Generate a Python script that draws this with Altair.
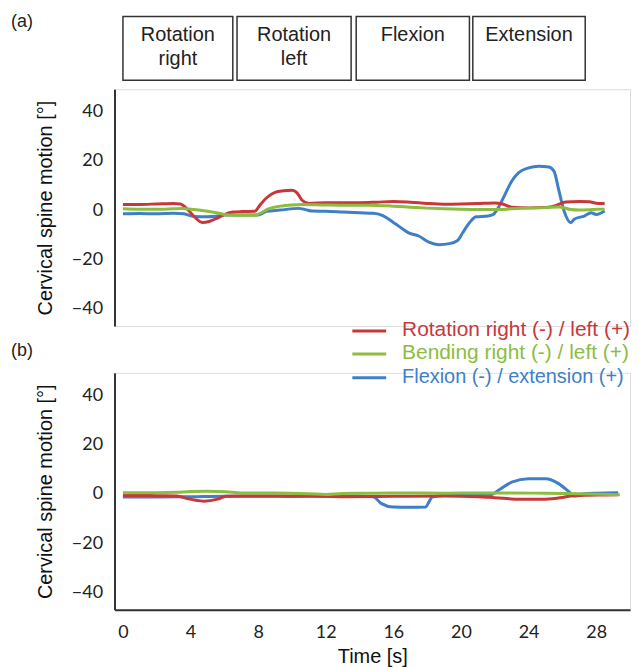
import altair as alt
import pandas as pd

# ---------------- data ----------------
series_names = ["Rotation right (-) / left (+)",
                "Bending right (-) / left (+)",
                "Flexion (-) / extension (+)"]
series_colors = ["#c8383a", "#8cbd3f", "#3f7fc8"]

# panel (a)
a_rot_t = [0.0, 1.0, 2.0, 3.0, 3.4, 3.8, 4.2, 4.7, 5.1, 5.5, 6.0, 6.5, 7.0, 7.8, 8.1, 8.5,
           9.0, 9.5, 10.0, 10.3, 10.6, 11.0, 12.0, 13.0, 14.0, 15.0, 16.0, 17.0, 18.0,
           19.0, 20.0, 21.0, 22.0, 22.4, 23.0, 24.0, 25.0, 25.6, 26.2, 27.0, 27.6, 28.0, 28.5]
a_rot_v = [2.3, 2.3, 2.5, 2.7, 2.5, 0.5, -2.5, -5.0, -4.6, -3.5, -1.8, -0.8, -0.6, -0.5, 2.0, 5.0,
           7.2, 7.8, 8.0, 7.0, 4.0, 2.7, 3.0, 3.0, 3.0, 3.2, 3.5, 3.2, 2.7,
           2.4, 2.5, 2.7, 2.9, 2.6, 1.2, 0.9, 1.1, 1.8, 3.3, 3.5, 3.4, 2.8, 2.7]

a_bend_t = [0.0, 1.0, 2.0, 3.0, 3.5, 4.2, 5.0, 5.7, 6.2, 7.0, 7.8, 8.2, 8.6, 9.3, 10.0, 10.6,
            12.0, 13.0, 14.6, 16.0, 17.0, 18.0, 19.0, 20.0, 21.0, 22.0, 23.0, 24.0, 25.0,
            25.8, 26.5, 27.0, 28.0, 28.5]
a_bend_v = [0.5, 0.3, 0.3, 0.5, 0.6, 0.2, -0.5, -1.3, -2.0, -2.1, -2.1, -1.0, 0.5, 1.6, 2.1, 2.3,
            2.1, 2.0, 2.0, 1.6, 1.2, 0.8, 0.5, 0.3, 0.2, 0.2, 0.5, 0.8, 1.0,
            1.3, 0.2, 0.0, 0.3, 0.4]

a_flex_t = [0.0, 1.0, 2.0, 3.0, 3.6, 4.2, 5.0, 5.5, 6.0, 7.0, 8.0, 8.5, 9.3, 10.4, 10.8, 11.2,
            12.0, 13.0, 14.0, 14.8, 15.3, 15.6, 16.0, 16.4, 16.9, 17.5, 18.1, 18.7, 19.3,
            19.8, 20.1, 20.5, 20.9, 21.6, 21.9, 22.2, 22.6, 23.0, 23.4, 24.0, 24.6, 25.2,
            25.5, 25.8, 26.1, 26.5, 26.7, 27.3, 27.7, 28.0, 28.5]
a_flex_v = [-1.5, -1.4, -1.5, -1.3, -1.5, -2.6, -2.7, -2.5, -2.0, -2.0, -2.0, -0.5, 0.0, 0.7, 0.2, -0.4,
            -0.5, -0.8, -1.1, -1.3, -2.0, -3.1, -5.0, -6.9, -9.2, -10.5, -13.0, -14.0, -13.6,
            -12.3, -9.2, -5.1, -2.7, -2.4, -1.8, 0.9, 6.3, 11.7, 15.1, 17.1, 17.8, 17.5,
            15.8, 7.7, -0.4, -5.1, -3.7, -2.4, -1.1, -1.8, -0.4]

# panel (b)
b_rot_t = [0.0, 1.0, 2.0, 3.2, 3.8, 4.8, 5.6, 6.1, 7.0, 9.0, 11.0, 13.0, 15.0, 17.0, 19.0,
           21.0, 22.0, 23.5, 25.0, 26.0, 26.5, 27.5, 28.5, 29.3]
b_rot_v = [-0.7, -0.7, -0.8, -0.9, -2.0, -3.0, -2.2, -1.0, -0.9, -0.9, -0.9, -1.2, -1.1, -1.0, -0.9,
           -1.2, -1.6, -2.2, -2.2, -1.5, -0.9, -0.6, -0.5, -0.4]

b_bend_t = [0.0, 2.0, 3.2, 4.0, 5.0, 6.1, 7.0, 9.0, 11.0, 12.0, 13.0, 15.0, 17.0, 19.0, 21.0,
            23.0, 25.0, 27.0, 29.4]
b_bend_v = [0.4, 0.4, 0.6, 0.9, 1.0, 0.8, 0.3, 0.3, 0.0, -0.3, 0.1, 0.2, 0.3, 0.2, 0.3,
            0.3, 0.2, 0.0, -0.4]

b_flex_t = [0.0, 2.0, 4.0, 6.0, 8.0, 10.0, 12.0, 14.0, 14.8, 15.3, 16.0, 17.0, 17.9, 18.1, 18.3,
            19.0, 20.0, 21.0, 21.8, 22.2, 23.0, 24.0, 25.0, 25.8, 26.4, 26.7, 27.3, 28.0, 29.3]
b_flex_v = [-1.3, -1.3, -1.2, -1.0, -1.0, -1.1, -1.0, -0.9, -1.2, -4.0, -5.4, -5.5, -5.4, -3.4, -1.3,
            -0.7, -0.6, -0.5, -0.4, 1.3, 4.7, 6.1, 6.1, 4.0, 0.7, -0.9, 0.0, 0.2, 0.4]

# task boxes above panel (a)
box_line1 = ["Rotation", "Rotation", "Flexion", "Extension"]
box_line2 = ["right", "left", "", ""]
box_start = [0.0, 6.75, 13.8, 20.7]
box_end = [6.5, 13.5, 20.5, 27.35]

panel_labels = ["(a)", "(b)"]
y_ticks = [-40, -20, 0, 20, 40]
x_ticks = [0, 4, 8, 12, 16, 20, 24, 28]

# ---------------- chart ----------------
W, H = 518, 238
XD = [-0.5, 30]
YD = [-47, 49]
TXT = "#222222"
SANS = "Liberation Sans"

y_axis = alt.Axis(values=y_ticks, title="Cervical spine motion [°]", ticks=False, grid=False,
                  labelPadding=12, labelFont="Lato", labelFontSize=18, labelColor=TXT,
                  titleFont=SANS, titleFontSize=20, titleFontWeight="normal", titleColor="#111111",
                  titlePadding=16, domainColor="#333333", domainWidth=2)
x_axis_b = alt.Axis(values=x_ticks, title="Time [s]", ticks=False, grid=False,
                    labelPadding=14, labelFont="Lato", labelFontSize=18, labelColor=TXT,
                    titleFont=SANS, titleFontSize=20, titleFontWeight="normal", titleColor="#111111",
                    titlePadding=5, domainColor="#333333", domainWidth=2)
xs = alt.Scale(domain=XD, nice=False, zero=False)
ys = alt.Scale(domain=YD, nice=False, zero=False)


def line_layers(data, x_axis):
    layers = []
    for t, v, c in data:
        df = pd.DataFrame({"t": t, "v": v})
        layers.append(
            alt.Chart(df).mark_line(color=c, strokeWidth=3, interpolate="monotone").encode(
                x=alt.X("t:Q", scale=xs, axis=x_axis),
                y=alt.Y("v:Q", scale=ys, axis=y_axis),
            )
        )
    return layers


def panel_label(text, yv):
    return alt.Chart(pd.DataFrame({"lab": [text]})).mark_text(
        align="left", baseline="middle", font=SANS, fontSize=18, color=TXT
    ).encode(x=alt.value(-104), y=alt.value(yv), text="lab:N")


# panel (a)
boxes_df = pd.DataFrame({"start": box_start, "end": box_end, "l1": box_line1, "l2": box_line2})
boxes = alt.Chart(boxes_df).mark_rect(fill="white", stroke="#333333", strokeWidth=1.5).encode(
    x=alt.X("start:Q", scale=xs, axis=None), x2="end:Q",
    y=alt.value(-73), y2=alt.value(-9))
box_t1 = alt.Chart(boxes_df).transform_calculate(mid="(datum.start + datum.end) / 2").mark_text(
    font=SANS, fontSize=20, color=TXT, baseline="middle").encode(
    x=alt.X("mid:Q", scale=xs, axis=None), y=alt.value(-54), text="l1:N")
box_t2 = alt.Chart(boxes_df).transform_calculate(mid="(datum.start + datum.end) / 2").mark_text(
    font=SANS, fontSize=20, color=TXT, baseline="middle").encode(
    x=alt.X("mid:Q", scale=xs, axis=None), y=alt.value(-30), text="l2:N")

a_lines = line_layers([(a_flex_t, a_flex_v, series_colors[2]),
                       (a_rot_t, a_rot_v, series_colors[0]),
                       (a_bend_t, a_bend_v, series_colors[1])], None)
panel_a = alt.layer(*a_lines, boxes, box_t1, box_t2, panel_label(panel_labels[0], -68)).properties(
    width=W, height=H)

# panel (b)
b_lines = line_layers([(b_flex_t, b_flex_v, series_colors[2]),
                       (b_rot_t, b_rot_v, series_colors[0]),
                       (b_bend_t, b_bend_v, series_colors[1])], x_axis_b)

legend_y = [-42, -19, 5]
legend_size = [21, 21, 20]
legend_layers = []
for name, col, ly, fs in zip(series_names, series_colors, legend_y, legend_size):
    ldf = pd.DataFrame({"name": [name]})
    legend_layers.append(alt.Chart(ldf).mark_rule(color=col, strokeWidth=3).encode(
        x=alt.value(239), x2=alt.value(273), y=alt.value(ly)))
    legend_layers.append(alt.Chart(ldf).mark_text(
        align="left", baseline="middle", font=SANS, fontSize=fs, color=col).encode(
        x=alt.value(289), y=alt.value(ly - 1), text="name:N"))

panel_b = alt.layer(*b_lines, *legend_layers, panel_label(panel_labels[1], -22)).properties(
    width=W, height=H)

chart = alt.vconcat(panel_a, panel_b, spacing=47, bounds="flush").properties(
    padding={"left": 2, "top": 2, "right": 0, "bottom": 0}
).configure_view(stroke=None).configure(background="white")

chart.save("out.html", embed_options={"renderer": "svg", "actions": False})
